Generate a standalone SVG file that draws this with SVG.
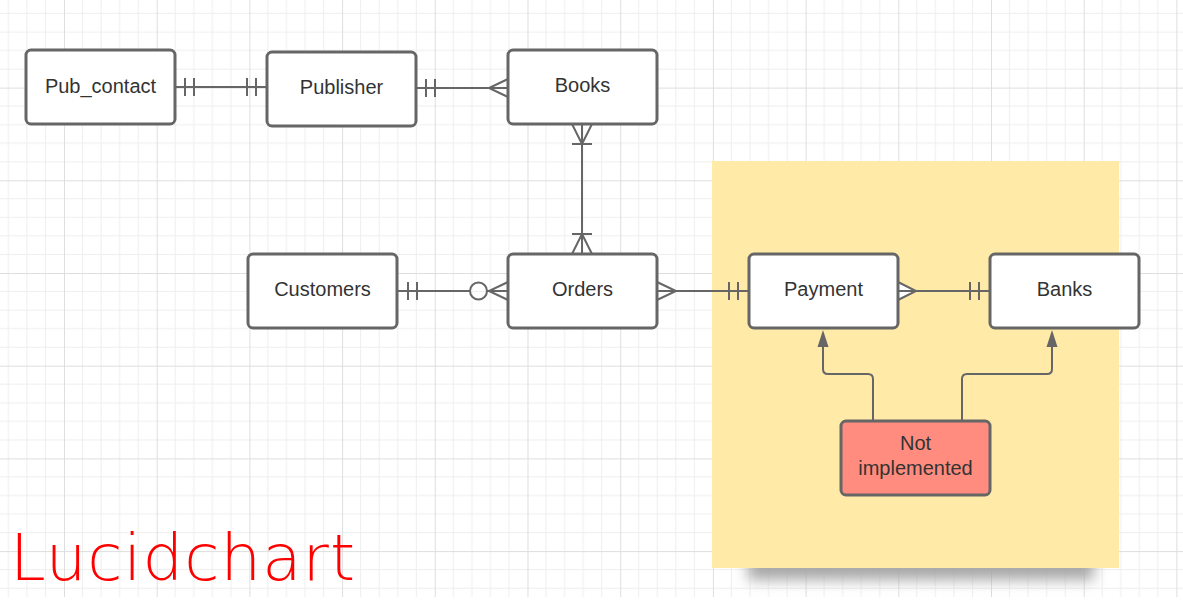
<svg xmlns="http://www.w3.org/2000/svg" width="1183" height="608" viewBox="0 0 1183 608">
<defs>
<pattern id="grid" patternUnits="userSpaceOnUse" x="64" y="87.6" width="92.7" height="92.7">
<path d="M18.54 0V92.7M37.08 0V92.7M55.62 0V92.7M74.16 0V92.7M0 18.54H92.7M0 37.08H92.7M0 55.62H92.7M0 74.16H92.7" stroke="#eeeeee" stroke-width="1" fill="none"/>
<path d="M0.5 0V92.7M0 0.5H92.7" stroke="#dedede" stroke-width="1" fill="none"/>
</pattern>
<filter id="blur" x="-20%" y="-50%" width="140%" height="200%"><feGaussianBlur stdDeviation="7"/></filter>
</defs>
<style>
.node rect{fill:#fff;stroke:#666;stroke-width:3}
.node text{font-family:"Liberation Sans",Arial,sans-serif;font-size:20px;fill:#333;text-anchor:middle}
.conn path,.conn circle{stroke:#666;stroke-width:2;fill:none}
.conn .head{fill:#666;stroke:none}
</style>
<rect width="1183" height="608" fill="#fff"/>
<rect x="0" y="0" width="1183" height="597" fill="url(#grid)"/>
<rect x="748" y="540" width="346" height="40" fill="#a8a8a8" filter="url(#blur)"/>
<rect x="712" y="161" width="407" height="407" fill="#ffeaa7"/>
<g id="connectors" class="conn">
<path d="M175 87H267M185 78V96M194 78V96M247 78V96M256 78V96"/>
<path d="M416 88H508M426 79V97M435 79V97M508 79L489 88L508 97"/>
<path d="M582 124V254M572 144H592M572 124L582 144L592 124M572 234H592M572 254L582 234L592 254"/>
<path d="M397 291H470M487 291H508M408 282V300M417 282V300M508 282L489 291L508 300"/>
<circle cx="478.5" cy="291" r="8.5"/>
<path d="M657 291H749M657 282L676 291L657 300M729 282V300M738 282V300"/>
<path d="M898 282L916 291L898 300Z" style="fill:#fff;stroke:none"/>
<path d="M898 291H990M898 282L916 291L898 300M970 282V300M979 282V300"/>
<path d="M873 421V379Q873 374 868 374H828Q823 374 823 369V345"/>
<path class="head" d="M823 330L828.5 347H817.5Z"/>
<path d="M962 421V379Q962 374 967 374H1047Q1052 374 1052 369V345"/>
<path class="head" d="M1052 330L1057.5 347H1046.5Z"/>
</g>
<g id="pub_contact" class="node"><rect x="26" y="50" width="149" height="74" rx="5"/><text x="100.5" y="93">Pub_contact</text></g>
<g id="publisher" class="node"><rect x="267" y="52" width="149" height="74" rx="5"/><text x="341.5" y="94">Publisher</text></g>
<g id="books" class="node"><rect x="508" y="50" width="149" height="74" rx="5"/><text x="582.5" y="92">Books</text></g>
<g id="customers" class="node"><rect x="248" y="254" width="149" height="74" rx="5"/><text x="322.5" y="296">Customers</text></g>
<g id="orders" class="node"><rect x="508" y="254" width="149" height="74" rx="5"/><text x="582.5" y="296">Orders</text></g>
<g id="payment" class="node"><rect x="749" y="254" width="149" height="74" rx="5"/><text x="823.5" y="296">Payment</text></g>
<g id="banks" class="node"><rect x="990" y="254" width="149" height="74" rx="5"/><text x="1064.5" y="296">Banks</text></g>
<g id="not_implemented" class="node"><rect x="841" y="421" width="149" height="74" rx="5" style="fill:#ff8c7e"/><text x="915.5" y="450">Not</text><text x="915.5" y="475">implemented</text></g>
<text x="10" y="580" font-family="DejaVu Sans, sans-serif" font-weight="200" font-size="64" fill="#f00" textLength="345" lengthAdjust="spacing">Lucidchart</text>
</svg>
